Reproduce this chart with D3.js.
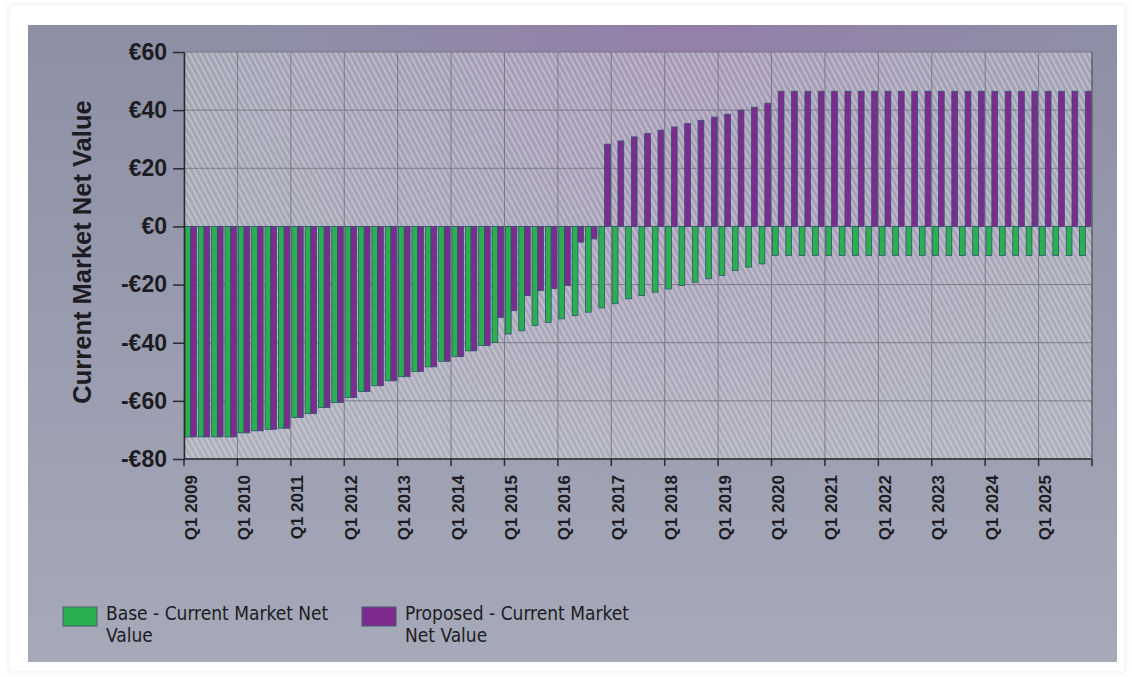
<!DOCTYPE html>
<html><head><meta charset="utf-8">
<script src="https://cdn.jsdelivr.net/npm/d3@7"></script>
<style>body{margin:0;background:#fff}svg{display:block}</style>
</head><body><svg id="c" width="1132" height="677"></svg>
<script>
const years = [2009,2010,2011,2012,2013,2014,2015,2016,2017,2018,2019,2020,2021,2022,2023,2024,2025];
const quarterNames = ["Q1","Q2","Q3","Q4"];
const quarters = years.flatMap(y => quarterNames.map(q => q + " " + y));
const xTickLabels = ["Q1 2009","Q1 2010","Q1 2011","Q1 2012","Q1 2013","Q1 2014","Q1 2015","Q1 2016","Q1 2017","Q1 2018","Q1 2019","Q1 2020","Q1 2021","Q1 2022","Q1 2023","Q1 2024","Q1 2025"];
const yTicks = [-80,-60,-40,-20,0,20,40,60];
const baseValues = [
  -72.4,-72.4,-72.4,-72.4,
  -71,-70.3,-69.8,-69.4,
  -65.7,-64.4,-62.3,-60.6,
  -58.8,-56.8,-54.8,-53.1,
  -51.7,-49.9,-48.3,-46.4,
  -44.8,-42.8,-41,-39.9,
  -37,-35.9,-34.1,-33,
  -31.8,-30.7,-29.5,-28,
  -26.6,-24.9,-23.8,-22.6,
  -21.5,-20.3,-19.2,-18,
  -16.9,-15.2,-14,-12.9,
  -10,-10,-10,-10,
  -10,-10,-10,-10,
  -10,-10,-10,-10,
  -10,-10,-10,-10,
  -10,-10,-10,-10,
  -10,-10,-10,-10
];
const proposedValues = [
  -72.4,-72.4,-72.4,-72.4,
  -71,-70.3,-69.8,-69.4,
  -65.7,-64.4,-62.3,-60.6,
  -58.8,-56.8,-54.8,-53.1,
  -51.7,-49.9,-48.3,-46.4,
  -44.8,-42.8,-41,-31.3,
  -29,-23.8,-22,-21.4,
  -20.3,-5.4,-4.3,28.3,
  29.4,30.8,32,33.1,
  34.2,35.4,36.5,37.6,
  38.6,40,41,42.4,
  46.5,46.5,46.5,46.5,
  46.5,46.5,46.5,46.5,
  46.5,46.5,46.5,46.5,
  46.5,46.5,46.5,46.5,
  46.5,46.5,46.5,46.5,
  46.5,46.5,46.5,46.5
];
const seriesKeys = ["base","proposed"];
const seriesColors = ["#2bb04f","#7d2b8e"];
const legendLines = [["Base - Current Market Net","Value"],["Proposed - Current Market","Net Value"]];
const yTitle = "Current Market Net Value";

const svg = d3.select("#c");
const defs = svg.append("defs");

const sh = defs.append("filter").attr("id","sh").attr("x","-5%").attr("y","-5%").attr("width","110%").attr("height","110%");
sh.append("feGaussianBlur").attr("stdDeviation",2.5);

const lg = defs.append("linearGradient").attr("id","bg").attr("x1",0).attr("y1",0).attr("x2",0).attr("y2",1);
lg.append("stop").attr("offset","0%").attr("stop-color","#8d90a5");
lg.append("stop").attr("offset","100%").attr("stop-color","#a6a9b8");
const rg = defs.append("radialGradient").attr("id","glow").attr("gradientUnits","userSpaceOnUse")
  .attr("cx",690).attr("cy",10).attr("r",480);
rg.append("stop").attr("offset","0%").attr("stop-color","#9a6cae").attr("stop-opacity",0.5);
rg.append("stop").attr("offset","100%").attr("stop-color","#9a6cae").attr("stop-opacity",0);

const pat = defs.append("pattern").attr("id","hatch").attr("patternUnits","userSpaceOnUse")
  .attr("width",5).attr("height",10).attr("patternTransform","rotate(-28)");
pat.append("rect").attr("width",5).attr("height",10).attr("fill","rgba(205,205,212,0.30)");
pat.append("line").attr("x1",1.5).attr("y1",0).attr("x2",1.5).attr("y2",10)
  .attr("stroke","rgba(230,230,234,0.5)").attr("stroke-width",1.6);

svg.append("rect").attr("x",10).attr("y",6).attr("width",1114).attr("height",665)
  .attr("fill","#fff").attr("stroke","#cfcfd4").attr("stroke-width",1.2).attr("filter","url(#sh)");
svg.append("rect").attr("x",10).attr("y",6).attr("width",1114).attr("height",665).attr("fill","#fff");

const card = {x:28,y:25,w:1089,h:637};
svg.append("rect").attr("x",card.x).attr("y",card.y).attr("width",card.w).attr("height",card.h).attr("fill","url(#bg)");
svg.append("rect").attr("x",card.x).attr("y",card.y).attr("width",card.w).attr("height",card.h).attr("fill","url(#glow)");

const L = 184, R = 1092, T = 52, B = 459;
const y = d3.scaleLinear().domain([-80,60]).range([B,T]);
const xLin = d3.scaleLinear().domain([0,quarters.length]).range([L,R]);
const x = d3.scaleBand().domain(quarters).range([L,R]).paddingInner(0.14).paddingOuter(0.07);
const xs = d3.scaleBand().domain(seriesKeys).range([0,x.bandwidth()]).padding(0);

svg.append("rect").attr("x",L).attr("y",T).attr("width",R-L).attr("height",B-T).attr("fill","url(#hatch)");

const grid = svg.append("g").attr("stroke","#6f6f7a").attr("stroke-width",1).attr("opacity",0.8);
grid.selectAll("line.h").data(yTicks).join("line").attr("class","h")
  .attr("x1",L).attr("x2",R).attr("y1",d=>y(d)).attr("y2",d=>y(d));
const yearIdx = years.map((d,i)=>i*4);
grid.selectAll("line.v").data(yearIdx.concat([quarters.length])).join("line").attr("class","v")
  .attr("y1",T).attr("y2",B).attr("x1",d=>xLin(d)).attr("x2",d=>xLin(d));

const rows = quarters.map((q,i)=>({q, base:baseValues[i], proposed:proposedValues[i]}));
const gBars = svg.append("g");
seriesKeys.forEach((k,si)=>{
  gBars.selectAll("rect."+k).data(rows).join("rect").attr("class",k)
    .attr("x",d=>x(d.q)+xs(k))
    .attr("width",xs.bandwidth())
    .attr("y",d=>y(Math.max(0,d[k])))
    .attr("height",d=>Math.abs(y(d[k])-y(0)))
    .attr("fill",seriesColors[si])
    .attr("stroke","#2d5470").attr("stroke-width",0.8);
});

const fmt = v => v < 0 ? "-€" + (-v) : "€" + v;
const yAxis = svg.append("g").attr("transform",`translate(${L},0)`)
  .call(d3.axisLeft(y).tickValues(yTicks).tickFormat(fmt).tickSize(11).tickSizeOuter(0).tickPadding(6));
yAxis.select(".domain").attr("stroke","#2a2a30").attr("stroke-width",1.5);
yAxis.selectAll(".tick line").attr("stroke","#2a2a30").attr("stroke-width",1.5);
yAxis.selectAll(".tick text").attr("font-family","'Liberation Sans', Arial, sans-serif")
  .attr("font-weight","bold").attr("font-size",23).attr("fill","#1c1c22");

const xAxis = svg.append("g").attr("transform",`translate(0,${B})`);
xAxis.append("line").attr("x1",L).attr("x2",R).attr("stroke","#2a2a30").attr("stroke-width",1.5);
xAxis.selectAll("line.t").data(yearIdx.concat([quarters.length])).join("line").attr("class","t")
  .attr("x1",d=>xLin(d)).attr("x2",d=>xLin(d)).attr("y1",0).attr("y2",7)
  .attr("stroke","#2a2a30").attr("stroke-width",1.5);
xAxis.selectAll("text").data(xTickLabels).join("text")
  .attr("transform",(d,i)=>`translate(${xLin(yearIdx[i])+7},16) rotate(-90)`)
  .attr("text-anchor","end").attr("dominant-baseline","central")
  .attr("font-family","'Liberation Sans', Arial, sans-serif").attr("font-weight","bold")
  .attr("font-size",17).attr("fill","#1c1c22").text(d=>d);

svg.append("line").attr("x1",R).attr("x2",R).attr("y1",T).attr("y2",B).attr("stroke","#55555e").attr("stroke-width",1);

svg.append("text").attr("transform",`translate(82,252) rotate(-90)`)
  .attr("text-anchor","middle").attr("dominant-baseline","central")
  .attr("font-family","'Liberation Sans', Arial, sans-serif").attr("font-weight","bold")
  .attr("font-size",25.5).attr("fill","#1c1c22").text(yTitle);

const legX = [63, 362];
const lg2 = svg.append("g");
seriesKeys.forEach((k,i)=>{
  lg2.append("rect").attr("x",legX[i]).attr("y",607).attr("width",34).attr("height",19)
    .attr("fill",seriesColors[i]).attr("stroke","#4a5a70").attr("stroke-width",1);
  const t = lg2.append("text").attr("x",legX[i]+43).attr("y",620)
    .attr("font-family","'DejaVu Sans Condensed','DejaVu Sans', sans-serif").attr("font-size",19).attr("fill","#1c1c24");
  legendLines[i].forEach((ln,j)=>{
    t.append("tspan").attr("x",legX[i]+43).attr("dy", j===0?0:22).text(ln);
  });
});
</script></body></html>
